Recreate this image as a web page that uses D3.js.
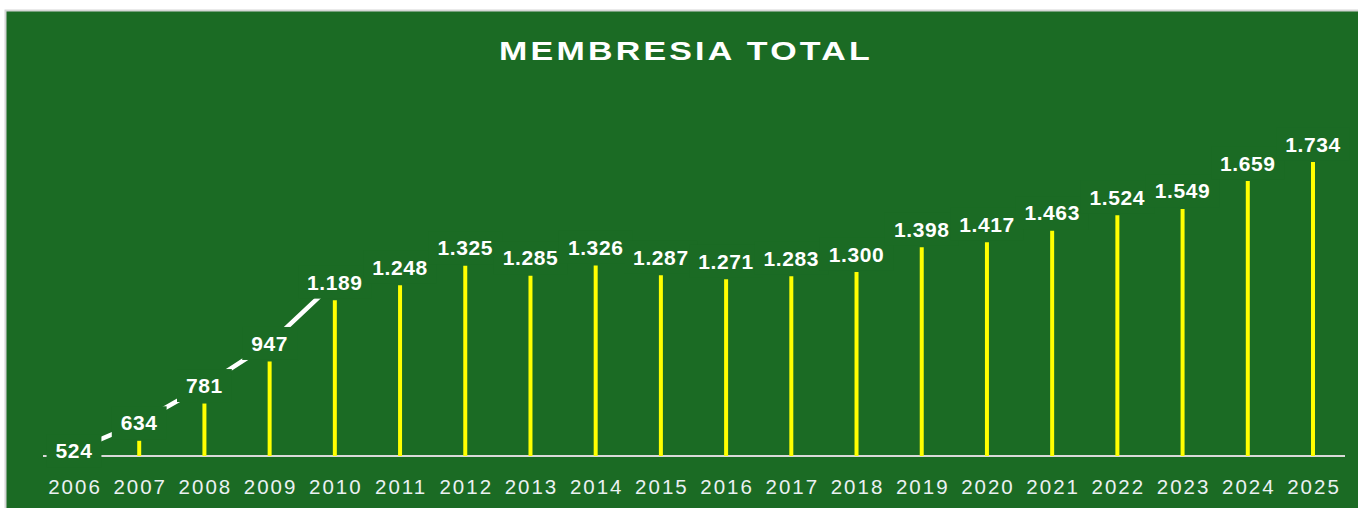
<!DOCTYPE html>
<html>
<head>
<meta charset="utf-8">
<script src="https://cdn.jsdelivr.net/npm/d3@7"></script>
<style>
  html, body { margin: 0; padding: 0; background: #ffffff; }
  svg { display: block; }
</style>
</head>
<body>
<div id="chart"></div>
<script>
// datos: membresia total por año
const years = ["2006", "2007", "2008", "2009", "2010", "2011", "2012", "2013", "2014", "2015",
               "2016", "2017", "2018", "2019", "2020", "2021", "2022", "2023", "2024", "2025"];
const members = [524, 634, 781, 947, 1189, 1248, 1325, 1285, 1326, 1287,
                 1271, 1283, 1300, 1398, 1417, 1463, 1524, 1549, 1659, 1734];
// la linea blanca solo cubre los primeros años
const lineYears = ["2006", "2007", "2008", "2009", "2010"];
const title = "MEMBRESIA TOTAL";

const W = 1358, H = 508;
const green = "#1b6b24";

const data = years.map((y, i) => ({ year: y, value: members[i] }));
const fmt = v => d3.format(",")(v).replace(/,/g, ".");

const svg = d3.select("#chart").append("svg")
  .attr("width", W)
  .attr("height", H);

// fondo / marco
svg.append("rect")
  .attr("x", 5.5).attr("y", 10.5)
  .attr("width", W).attr("height", H)
  .attr("fill", green)
  .attr("stroke", "#d6d6d6")
  .attr("stroke-width", 2);

// escalas
const x = d3.scalePoint()
  .domain(years)
  .range([74, 1313]);

const y = d3.scaleLinear()
  .domain([574, 1734])
  .range([456, 162]);

const base = y.range()[0];

// titulo: letra ancha, se estira en horizontal hasta ~374px
const tg = svg.append("g");
const t = tg.append("text")
  .attr("x", 0)
  .attr("y", 0)
  .attr("text-anchor", "middle")
  .attr("fill", "#ffffff")
  .attr("font-family", "'Liberation Sans', Arial, sans-serif")
  .attr("font-weight", "bold")
  .attr("font-size", 26.5)
  .attr("letter-spacing", 2.5)
  .text(title);
const len0 = t.node().getComputedTextLength();
const sx = 374 / len0;
tg.attr("transform", `translate(686,60) scale(${sx},1)`);

// eje x
svg.append("line")
  .attr("x1", 43).attr("x2", 1345)
  .attr("y1", base).attr("y2", base)
  .attr("stroke", "#d9d9d9")
  .attr("stroke-width", 2);

svg.append("g")
  .selectAll("text")
  .data(years)
  .join("text")
    .attr("x", d => x(d) + 1)
    .attr("y", 494)
    .attr("text-anchor", "middle")
    .attr("fill", "#eaf1f3")
    .attr("font-family", "'Liberation Sans', Arial, sans-serif")
    .attr("font-size", 20.5)
    .attr("letter-spacing", 2)
    .text(d => d);

// barras
svg.append("g")
  .selectAll("line")
  .data(data.filter(d => d.value > y.domain()[0]))
  .join("line")
    .attr("x1", d => x(d.year)).attr("x2", d => x(d.year))
    .attr("y1", base)
    .attr("y2", d => y(d.value))
    .attr("stroke", "#ffff00")
    .attr("stroke-width", 4);

// linea blanca entre etiquetas
const lineData = data.filter(d => lineYears.includes(d.year));
svg.append("path")
  .datum(lineData)
  .attr("fill", "none")
  .attr("stroke", "#ffffff")
  .attr("stroke-width", 4.5)
  .attr("d", d3.line()
    .x(d => x(d.year))
    .y(d => y(d.value) - 18));

// etiquetas de valores
const labels = svg.append("g")
  .selectAll("g")
  .data(data)
  .join("g")
    .attr("transform", d => `translate(${x(d.year)},${y(d.value) - 18})`);

labels.append("text")
  .attr("text-anchor", "middle")
  .attr("dy", "0.36em")
  .attr("fill", "#ffffff")
  .attr("font-family", "'Liberation Sans', Arial, sans-serif")
  .attr("font-weight", "bold")
  .attr("font-size", 21)
  .attr("letter-spacing", 0.6)
  .text(d => fmt(d.value));

labels.each(function() {
  const g = d3.select(this);
  const bb = g.select("text").node().getBBox();
  g.insert("rect", "text")
    .attr("x", bb.x - 9)
    .attr("y", -16.5)
    .attr("width", bb.width + 18)
    .attr("height", 33)
    .attr("fill", green);
});
</script>
</body>
</html>
